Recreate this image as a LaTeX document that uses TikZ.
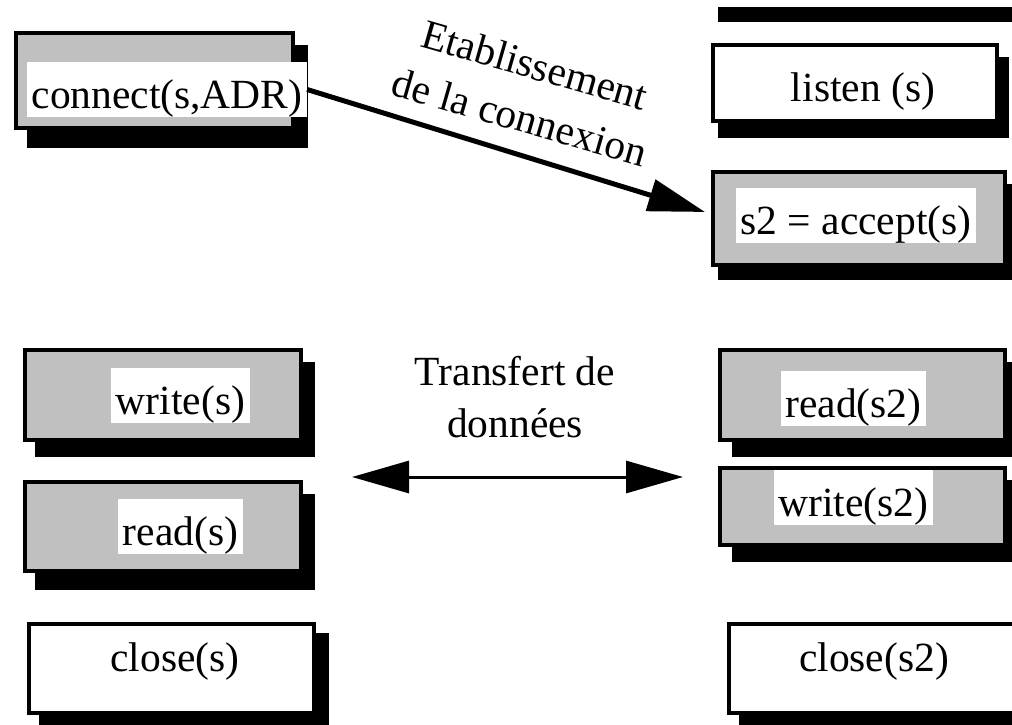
\documentclass[tikz,border=0pt]{standalone}
\usepackage{fontspec}
\setmainfont{Liberation Serif}
\usetikzlibrary{arrows.meta}
\definecolor{boxgray}{RGB}{192,192,192}
\begin{document}
\begin{tikzpicture}[x=1pt,y=-1pt,
  bigfont/.style={font=\fontsize{41.5}{48}\selectfont},
  box/.style={draw=black, line width=4pt, inner sep=0pt},
  graybox/.style={box, fill=boxgray},
  whitebox/.style={box, fill=white},
  shade/.style={fill=black},
  lbl/.style={bigfont, fill=white, inner xsep=4.5pt, inner ysep=0pt,
              text height=46pt, text depth=9pt, anchor=base},
  txt/.style={bigfont, inner sep=0pt, anchor=base},
  flow/.style={line width=5pt, -{Triangle[length=57pt,width=32pt]}},
  exchange/.style={line width=3pt, {Triangle[length=57pt,width=32pt]}-{Triangle[length=57pt,width=32pt]}},
]
\useasboundingbox (0,0) rectangle (1012,725);
\clip (0,0) rectangle (1012,725);

% --- drop shadows ---
\fill[shade] (718,7) rectangle (1012,22);
\fill[shade] (27,45) rectangle (308,148);
\fill[shade] (718,57) rectangle (1009,138);
\fill[shade] (718,184) rectangle (1015,280);
\fill[shade] (35,362) rectangle (315,457);
\fill[shade] (35,494) rectangle (315,590);
\fill[shade] (732,362) rectangle (1015,457);
\fill[shade] (732,480) rectangle (1015,562);
\fill[shade] (39,633) rectangle (329,730);
\fill[shade] (739,633) rectangle (1030,730);

% --- client side ---
\node[graybox, minimum width=277pt, minimum height=95pt] (connbox) at (154.5,80.5) {};
\node[lbl] (conn) at (167,108) {connect(s,ADR)};
\node[graybox, minimum width=276pt, minimum height=90pt] (cwritebox) at (163,395) {};
\node[lbl] (cwrite) at (180.5,414) {write(s)};
\node[graybox, minimum width=276pt, minimum height=89pt] (creadbox) at (163,526.5) {};
\node[lbl] (cread) at (180.5,545) {read(s)};
\node[whitebox, minimum width=285pt, minimum height=89pt] (cclosebox) at (171.5,668.5) {};
\node[txt] (cclose) at (175,671) {close(s)};

% --- server side ---
\node[whitebox, minimum width=284pt, minimum height=76pt] (listenbox) at (855,83) {};
\node[txt] (listen) at (863,101) {listen (s)};
\node[graybox, minimum width=292pt, minimum height=93pt] (acceptbox) at (859,218.5) {};
\node[lbl] (accept) at (856,234) {s2 = accept(s)};
\node[graybox, minimum width=285pt, minimum height=90pt] (sreadbox) at (862.5,395) {};
\node[lbl] (sread) at (853.5,417) {read(s2)};
\node[graybox, minimum width=285pt, minimum height=77pt] (swritebox) at (862.5,506.5) {};
\node[lbl] (swrite) at (853.5,516) {write(s2)};
\node[whitebox, minimum width=299pt, minimum height=89pt] (sclosebox) at (878.5,668.5) {};
\node[txt] (sclose) at (874,671) {close(s2)};

% --- connection set-up ---
\draw[flow] (conn.east) -- ([xshift=-6pt,yshift=6.5pt]acceptbox.west);
\node[font=\fontsize{41.5}{54}\selectfont, inner sep=0pt, align=center, rotate=-16]
  (est) at (527.5,91) {Etablissement\\de la connexion};

% --- data transfer ---
\coordinate (xl) at (352,477);
\coordinate (xr) at (683,477);
\draw[exchange] (xl) -- (xr);
\node[txt] (tr1) at (515,385) {Transfert de};
\node[txt] (tr2) at (515,437) {données};
\end{tikzpicture}
\end{document}
